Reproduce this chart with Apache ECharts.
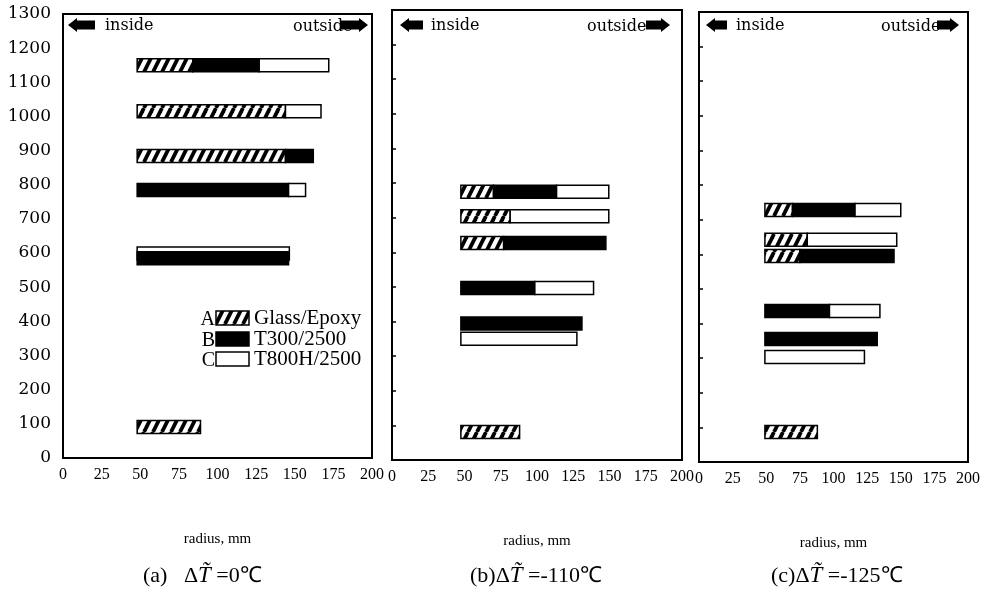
<!DOCTYPE html>
<html>
<head>
<meta charset="utf-8">
<script src="https://cdn.jsdelivr.net/npm/echarts@6/dist/echarts.min.js"></script>
<style>html,body{margin:0;padding:0;background:#fff}#c{width:997px;height:598px}</style>
</head>
<body>
<div id="c"></div>
<script>
// ---- data ----
const materials = ['Glass/Epoxy', 'T300/2500', 'T800H/2500'];
const materialLetters = ['A', 'B', 'C'];
const yTicks = [0, 100, 200, 300, 400, 500, 600, 700, 800, 900, 1000, 1100, 1200, 1300];
const xTicks = [0, 25, 50, 75, 100, 125, 150, 175, 200];
const captions = ['(a)', '(b)', '(c)'];
const deltaT = ['0', '-110', '-125'];
const xAxisTitle = 'radius, mm';
// segments: [y position, start radius, end radius, material index]
const panelA = [
  [1150, 48, 84, 0], [1150, 84, 127, 1], [1150, 127, 172, 2],
  [1015, 48, 144, 0], [1015, 144, 167, 2],
  [884, 48, 144, 0], [884, 144, 162, 1],
  [785, 48, 146, 1], [785, 146, 157, 2],
  [599, 48, 146.5, 2], [585, 48, 146, 1],
  [91, 48, 89, 0]
];
const panelB = [
  [775, 47.5, 70, 0], [775, 70, 113.5, 1], [775, 113.5, 149.5, 2],
  [704, 47.5, 81.5, 0], [704, 81.5, 149.5, 2],
  [627, 47.5, 77, 0], [627, 77, 147.5, 1],
  [497, 47.5, 98.5, 1], [497, 98.5, 139, 2],
  [394, 47.5, 131, 1],
  [350, 47.5, 127.5, 2],
  [81, 47.5, 88, 0]
];
const panelC = [
  [728, 49, 69.5, 0], [728, 69.5, 116, 1], [728, 116, 150, 2],
  [642, 49, 80.5, 0], [642, 80.5, 147, 2],
  [595, 49, 75, 0], [595, 75, 145, 1],
  [436, 49, 97, 1], [436, 97, 134.5, 2],
  [355, 49, 132.5, 1],
  [303, 49, 123, 2],
  [87, 49, 88, 0]
];
const panels = [panelA, panelB, panelC];

// ---- styles ----
function hatchCanvas() {
  const w = 9, h = 18;
  const cv = document.createElement('canvas');
  cv.width = w; cv.height = h;
  const ctx = cv.getContext('2d');
  ctx.fillStyle = '#fff'; ctx.fillRect(0, 0, w, h);
  ctx.strokeStyle = '#000'; ctx.lineWidth = 3.8;
  for (let k = -2; k <= 2; k++) {
    ctx.beginPath();
    ctx.moveTo(k * w, h);
    ctx.lineTo(k * w + w, 0);
    ctx.stroke();
  }
  return cv;
}
const hatch = { image: hatchCanvas(), repeat: 'repeat' };
const fills = [hatch, '#000', '#fff'];
const BAR_H = 13;

const grids = [
  { left: 63, top: 14, width: 309, height: 444 },
  { left: 392, top: 10, width: 290, height: 450 },
  { left: 699, top: 12, width: 269, height: 450 }
];

function renderItem(params, api) {
  const y = api.value(0), r0 = api.value(1), r1 = api.value(2), m = api.value(3);
  const p0 = api.coord([r0, y]);
  const p1 = api.coord([r1, y]);
  return {
    type: 'rect',
    shape: { x: p0[0], y: p0[1] - BAR_H / 2, width: p1[0] - p0[0], height: BAR_H },
    style: { fill: fills[m], stroke: '#000', lineWidth: 1.5 }
  };
}

const option = {
  animation: false,
  backgroundColor: '#fff',
  grid: grids.map(g => Object.assign({ show: true, borderColor: '#000', borderWidth: 2, backgroundColor: '#fff' }, g)),
  xAxis: grids.map((g, i) => ({
    gridIndex: i, type: 'value', min: xTicks[0], max: xTicks[xTicks.length - 1], interval: xTicks[1] - xTicks[0],
    axisLine: { show: true, lineStyle: { color: '#000', width: 2 } },
    axisTick: { show: false }, splitLine: { show: false },
    axisLabel: { color: '#000', fontFamily: 'Liberation Serif', fontSize: 16, margin: 9, formatter: v => String(v) },
    name: xAxisTitle, nameLocation: 'middle', nameGap: 74,
    nameTextStyle: { color: '#000', fontFamily: 'Liberation Serif', fontSize: 15 }
  })),
  yAxis: grids.map((g, i) => ({
    gridIndex: i, type: 'value', min: yTicks[0], max: yTicks[yTicks.length - 1], interval: yTicks[1] - yTicks[0],
    axisLine: { show: true, lineStyle: { color: '#000', width: 2 } },
    axisTick: { show: i > 0, inside: true, length: 4, lineStyle: { color: '#000', width: 1.5 } },
    splitLine: { show: false },
    axisLabel: { show: i === 0, color: '#000', fontFamily: 'DejaVu Serif', fontSize: 17, margin: 12, formatter: v => String(v) }
  })),
  series: panels.map((d, i) => ({
    type: 'custom', xAxisIndex: i, yAxisIndex: i,
    renderItem: renderItem,
    encode: { x: [1, 2], y: 0 },
    data: d
  })),
  graphic: []
};

// inside / outside labels and arrows
function leftArrow(x0, x1, cy) {
  return { type: 'polygon', shape: { points: [[x0, cy], [x0 + 9, cy - 7], [x0 + 9, cy - 4.5], [x1, cy - 4.5], [x1, cy + 4.5], [x0 + 9, cy + 4.5], [x0 + 9, cy + 7]] }, style: { fill: '#000' }, z: 100 };
}
function rightArrow(x0, x1, cy) {
  return { type: 'polygon', shape: { points: [[x1, cy], [x1 - 9, cy - 7], [x1 - 9, cy - 4.5], [x0, cy - 4.5], [x0, cy + 4.5], [x1 - 9, cy + 4.5], [x1 - 9, cy + 7]] }, style: { fill: '#000' }, z: 100 };
}
function txt(x, y, text, size, family, align, extra) {
  return Object.assign({ type: 'text', x: x, y: y, z: 90,
    style: { text: text, fontSize: size, fontFamily: family, fill: '#000', align: align || 'left', verticalAlign: 'middle', textAlign: align || 'left', textVerticalAlign: 'middle' } }, extra || {});
}
const arrowSpec = [
  { la: [68, 95], inside: 105, outside: 293, ra: [340, 368] },
  { la: [400, 423], inside: 431, outside: 587, ra: [646, 670] },
  { la: [706, 727], inside: 736, outside: 881, ra: [937, 959] }
];
arrowSpec.forEach(s => {
  option.graphic.push(leftArrow(s.la[0], s.la[1], 25));
  option.graphic.push(txt(s.inside, 26, 'inside', 16, 'DejaVu Serif'));
  option.graphic.push(txt(s.outside, 27, 'outside', 16, 'DejaVu Serif'));
  option.graphic.push(rightArrow(s.ra[0], s.ra[1], 25));
});

// legend (inside panel a)
const legRows = [318, 339, 359];
materials.forEach((m, i) => {
  option.graphic.push({ type: 'rect', shape: { x: 216, y: legRows[i] - 7, width: 33, height: 14 }, style: { fill: fills[i], stroke: '#000', lineWidth: 1.5 }, z: 95 });
  option.graphic.push(txt(215, legRows[i] + 2, materialLetters[i], 20, 'Liberation Serif', 'right'));
  option.graphic.push(txt(254, legRows[i], m, 21, 'Liberation Serif', 'left'));
});

// captions
const capX = [143, 470, 771];
captions.forEach((c, i) => {
  const gap = i === 0 ? '   ' : '';
  option.graphic.push({ type: 'text', x: capX[i], y: 576, z: 90,
    style: { text: '{n|' + c + gap + 'Δ}{t|T\u0303}{n| =' + deltaT[i] + '℃}',
      verticalAlign: 'middle', textVerticalAlign: 'middle',
      rich: { n: { fontFamily: 'Liberation Serif', fontSize: 22, fill: '#000', color: '#000' },
              t: { fontFamily: 'Liberation Serif', fontSize: 23, fontStyle: 'italic', fill: '#000', color: '#000' } } } });
});

const chart = echarts.init(document.getElementById('c'), null, { renderer: 'canvas' });
chart.setOption(option);
</script>
</body>
</html>
